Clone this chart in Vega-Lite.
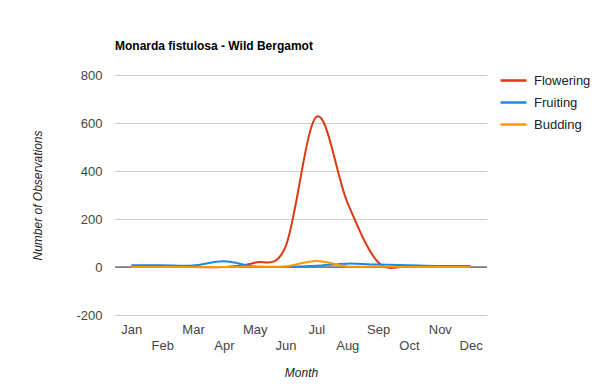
{
  "$schema": "https://vega.github.io/schema/vega-lite/v6.json",
  "width": 372,
  "height": 240,
  "autosize": {"type": "none"},
  "padding": {"left": 115, "top": 75, "right": 113, "bottom": 75},
  "background": "white",
  "title": {
    "text": "Monarda fistulosa - Wild Bergamot",
    "anchor": "start",
    "frame": "group",
    "font": "Liberation Sans",
    "fontSize": 12,
    "fontWeight": "bold",
    "color": "#000000",
    "offset": 13
  },
  "config": {
    "view": {"stroke": null},
    "font": "Liberation Sans"
  },
  "layer": [
    {
      "data": {"values": [{"y": 0}]},
      "mark": {"type": "rule", "color": "#333333", "strokeWidth": 1},
      "encoding": {
        "y": {"field": "y", "type": "quantitative", "scale": {"domain": [-200, 800], "nice": false, "zero": false}}
      }
    },
    {
      "data": {
        "values": [
          {"month": "Jan", "phase": "Flowering", "count": 0},
          {"month": "Feb", "phase": "Flowering", "count": 0},
          {"month": "Mar", "phase": "Flowering", "count": 0},
          {"month": "Apr", "phase": "Flowering", "count": 0},
          {"month": "May", "phase": "Flowering", "count": 18},
          {"month": "Jun", "phase": "Flowering", "count": 85},
          {"month": "Jul", "phase": "Flowering", "count": 626},
          {"month": "Aug", "phase": "Flowering", "count": 270},
          {"month": "Sep", "phase": "Flowering", "count": 20},
          {"month": "Oct", "phase": "Flowering", "count": 3},
          {"month": "Nov", "phase": "Flowering", "count": 0},
          {"month": "Dec", "phase": "Flowering", "count": 0},
          {"month": "Jan", "phase": "Fruiting", "count": 7},
          {"month": "Feb", "phase": "Fruiting", "count": 7},
          {"month": "Mar", "phase": "Fruiting", "count": 6},
          {"month": "Apr", "phase": "Fruiting", "count": 24},
          {"month": "May", "phase": "Fruiting", "count": 2},
          {"month": "Jun", "phase": "Fruiting", "count": 1},
          {"month": "Jul", "phase": "Fruiting", "count": 5},
          {"month": "Aug", "phase": "Fruiting", "count": 14},
          {"month": "Sep", "phase": "Fruiting", "count": 10},
          {"month": "Oct", "phase": "Fruiting", "count": 7},
          {"month": "Nov", "phase": "Fruiting", "count": 4},
          {"month": "Dec", "phase": "Fruiting", "count": 4},
          {"month": "Jan", "phase": "Budding", "count": 0},
          {"month": "Feb", "phase": "Budding", "count": 0},
          {"month": "Mar", "phase": "Budding", "count": 0},
          {"month": "Apr", "phase": "Budding", "count": 0},
          {"month": "May", "phase": "Budding", "count": 2},
          {"month": "Jun", "phase": "Budding", "count": 2},
          {"month": "Jul", "phase": "Budding", "count": 25},
          {"month": "Aug", "phase": "Budding", "count": 2},
          {"month": "Sep", "phase": "Budding", "count": 2},
          {"month": "Oct", "phase": "Budding", "count": 0},
          {"month": "Nov", "phase": "Budding", "count": 0},
          {"month": "Dec", "phase": "Budding", "count": 0}
        ]
      },
      "mark": {"type": "line", "interpolate": "cardinal", "strokeWidth": 2},
      "encoding": {
        "x": {
          "field": "month",
          "type": "ordinal",
          "sort": ["Jan","Feb","Mar","Apr","May","Jun","Jul","Aug","Sep","Oct","Nov","Dec"],
          "scale": {"type": "point", "padding": 0.53},
          "axis": {
            "title": "Month",
            "titleFont": "Liberation Sans",
            "titleFontSize": 12,
            "titleFontStyle": "italic",
            "titleFontWeight": "normal",
            "titleColor": "#222222",
            "titleY": 57,
            "titleBaseline": "middle",
            "labelAngle": 0,
            "labelFont": "Liberation Sans",
            "labelFontSize": 13,
            "labelColor": "#444444",
            "labelOverlap": false,
            "labelPadding": 8,
            "labelLineHeight": 16,
            "labelExpr": "indexof(['Feb','Apr','Jun','Aug','Oct','Dec'], datum.value) >= 0 ? ['', datum.label] : datum.label",
            "domain": false,
            "ticks": false,
            "grid": false
          }
        },
        "y": {
          "field": "count",
          "type": "quantitative",
          "scale": {"domain": [-200, 800], "nice": false, "zero": false},
          "axis": {
            "title": "Number of Observations",
            "titleFont": "Liberation Sans",
            "titleFontSize": 12,
            "titleFontStyle": "italic",
            "titleFontWeight": "normal",
            "titleColor": "#222222",
            "titleX": -78,
            "titleY": 120,
            "titleBaseline": "middle",
            "titleAlign": "center",
            "values": [-200, -100, 0, 100, 200, 300, 400, 500, 600, 700, 800],
            "labelExpr": "datum.value % 200 === 0 ? '' + datum.value : ''",
            "labelFont": "Liberation Sans",
            "labelFontSize": 13,
            "labelColor": "#444444",
            "labelPadding": 13,
            "domain": false,
            "ticks": false,
            "grid": true,
            "gridColor": {"condition": {"test": "datum.value % 200 === 0", "value": "#cccccc"}, "value": "#ebebeb"},
            "gridWidth": 1
          }
        },
        "color": {
          "field": "phase",
          "type": "nominal",
          "sort": ["Flowering", "Fruiting", "Budding"],
          "scale": {"domain": ["Flowering", "Fruiting", "Budding"], "range": ["#dc3912", "#1e88e5", "#ff9800"]},
          "legend": {
            "title": null,
            "orient": "none",
            "legendX": 384,
            "legendY": -9,
            "symbolType": "stroke",
            "symbolSize": 676,
            "symbolStrokeWidth": 2.5,
            "labelFont": "Liberation Sans",
            "labelFontSize": 13,
            "labelColor": "#222222",
            "labelOffset": 6,
            "rowPadding": -5
          }
        }
      }
    }
  ]
}
